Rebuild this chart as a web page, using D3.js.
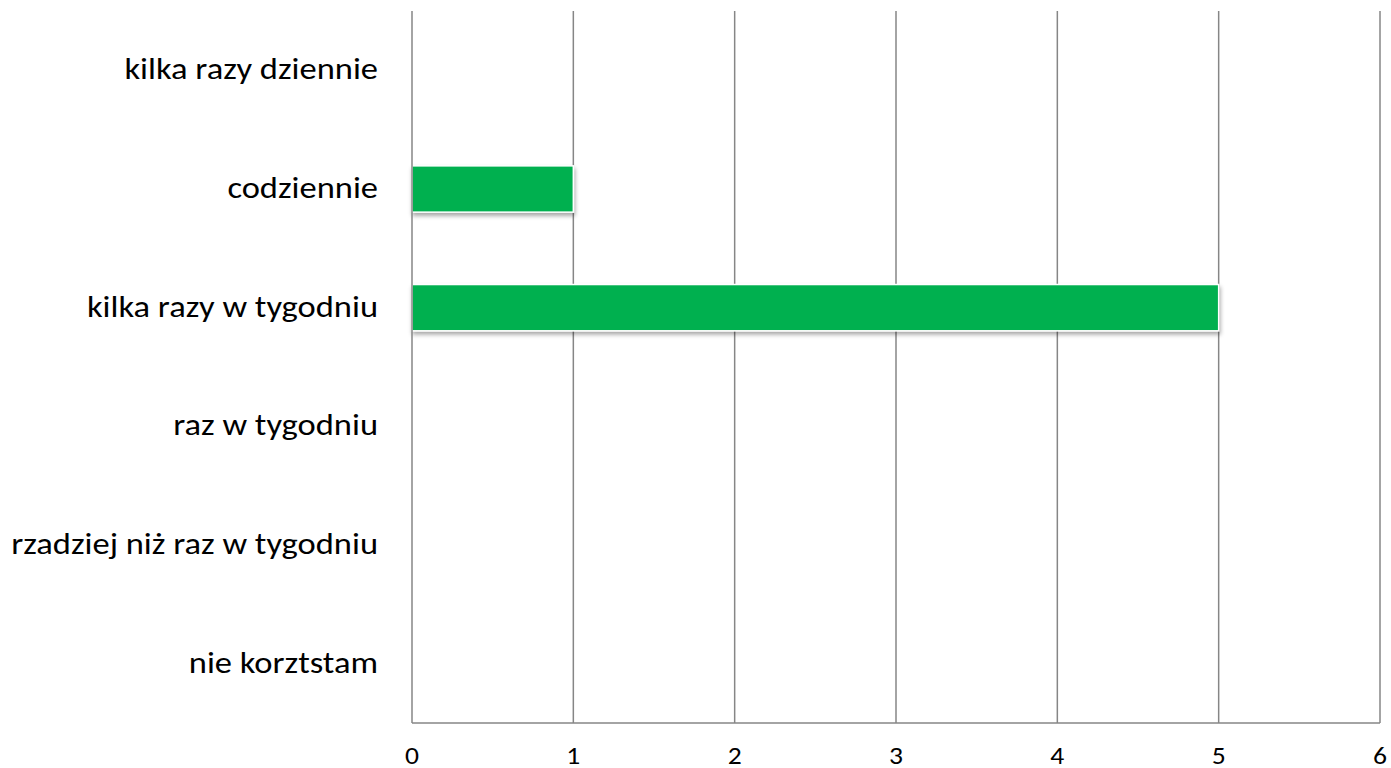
<!DOCTYPE html>
<html>
<head>
<meta charset="utf-8">
<script src="https://cdn.jsdelivr.net/npm/d3@7"></script>
<style>
  body { margin: 0; background: #fff; }
  text { font-family: Carlito, Calibri, Lato, sans-serif; fill: #000; }
</style>
</head>
<body>
<div id="chart"></div>
<script>
// categories top to bottom
const categories = ["kilka razy dziennie", "codziennie", "kilka razy w tygodniu", "raz w tygodniu", "rzadziej niż raz w tygodniu", "nie korztstam"];
const values = [0, 1, 5, 0, 0, 0];
const xTicks = [0, 1, 2, 3, 4, 5, 6];

const width = 1391, height = 768;
const margin = { top: 11, right: 11, bottom: 45, left: 412 };
// the original picture is a bit stretched sideways
const stretch = 1.15;

const svg = d3.select("#chart").append("svg")
  .attr("width", width)
  .attr("height", height);

// shadow under the bars
const defs = svg.append("defs");
const filt = defs.append("filter").attr("id", "shadow")
  .attr("x", "-5%").attr("y", "-20%").attr("width", "110%").attr("height", "160%");
filt.append("feDropShadow")
  .attr("dx", 1).attr("dy", 3).attr("stdDeviation", 2)
  .attr("flood-color", "#000").attr("flood-opacity", 0.35);

const x = d3.scaleLinear()
  .domain([0, 6])
  .range([margin.left, width - margin.right]);

const y = d3.scaleBand()
  .domain(categories)
  .range([margin.top, height - margin.bottom])
  .paddingInner(0.61)
  .paddingOuter(0.305);

const bottom = height - margin.bottom;

// vertical gridlines
svg.append("g").selectAll("line")
  .data(xTicks.slice(1))
  .enter().append("line")
  .attr("x1", d => x(d)).attr("x2", d => x(d))
  .attr("y1", margin.top).attr("y2", bottom)
  .attr("stroke", "#868686")
  .attr("stroke-width", 1.5);

// bars
svg.append("g").selectAll("rect")
  .data(values.map((v, i) => ({ cat: categories[i], v: v })).filter(d => d.v > 0))
  .enter().append("rect")
  .attr("x", x(0))
  .attr("y", d => y(d.cat))
  .attr("width", d => x(d.v) - x(0))
  .attr("height", y.bandwidth())
  .attr("fill", "#00b050")
  .attr("stroke", "#fff")
  .attr("stroke-width", 1.5)
  .attr("filter", "url(#shadow)");

// axis lines
svg.append("line")
  .attr("x1", x(0)).attr("x2", x(0))
  .attr("y1", margin.top).attr("y2", bottom)
  .attr("stroke", "#868686").attr("stroke-width", 1.5);
svg.append("line")
  .attr("x1", x(0)).attr("x2", x(6))
  .attr("y1", bottom).attr("y2", bottom)
  .attr("stroke", "#868686").attr("stroke-width", 1.5);

// x tick labels
svg.append("g").selectAll("text")
  .data(xTicks)
  .enter().append("text")
  .attr("transform", d => `translate(${x(d)},${bottom + 41}) scale(${stretch},1)`)
  .attr("text-anchor", "middle")
  .style("font-size", "24px")
  .text(d => d);

// category labels
svg.append("g").selectAll("text")
  .data(categories)
  .enter().append("text")
  .attr("transform", d => `translate(${x(0) - 34},${y(d) + y.bandwidth() / 2}) scale(${stretch},1)`)
  .attr("dy", "0.3em")
  .attr("text-anchor", "end")
  .style("font-size", "30px")
  .text(d => d);
</script>
</body>
</html>
